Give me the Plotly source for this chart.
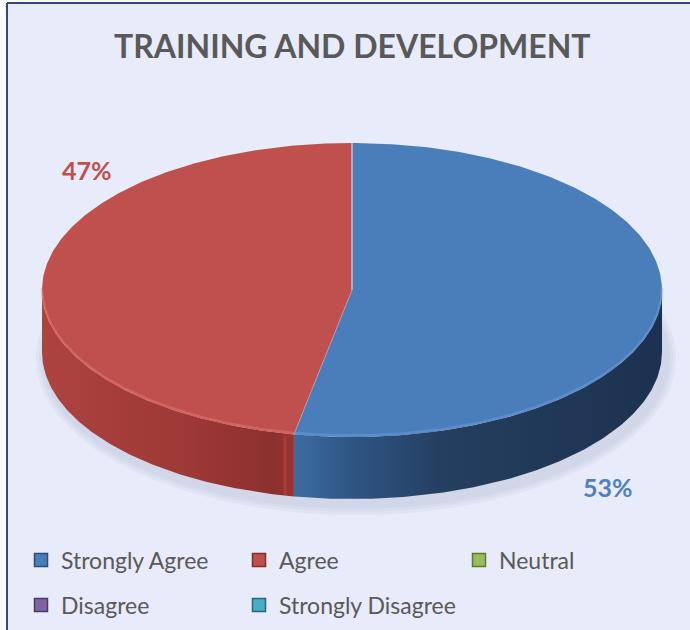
import numpy as np
import plotly.graph_objects as go

# ---- data ----
categories = ["Strongly Agree", "Agree", "Neutral", "Disagree", "Strongly Disagree"]
values = [53, 47, 0, 0, 0]
title_text = "TRAINING AND DEVELOPMENT"

# ---- styling ----
top_colors = ["#4a7ebb", "#c0504d", "#9bbb59", "#8064a2", "#4bacc6"]
side_scales = [
    [[0, "#3d6ca2"], [0.15, "#2f5685"], [0.4, "#253f60"], [1, "#1c3150"]],
    [[0, "#ad4340"], [0.6, "#9c3835"], [0.92, "#8b302e"], [1, "#983532"]],
    [[0, "#7f9a45"], [1, "#5f7533"]],
    [[0, "#65507f"], [1, "#4a3b5e"]],
    [[0, "#3a8aa0"], [1, "#2a6677"]],
]
legend_edge = ["#2c4d74", "#7e2f2d", "#5f7533", "#4a3b5e", "#2a6677"]
label_colors = ["#4f81bd", "#c0504d", "#9bbb59", "#8064a2", "#4bacc6"]
text_grey = "#595959"
W, H = 690, 630

# pie geometry in pixel units (y grows downwards)
cx, cy, rx, ry, depth = 352, 290, 310, 147, 62


def rim(t, dy=0.0):
    """Points on the ellipse rim; t is measured clockwise from 12 o'clock."""
    return cx + rx * np.sin(t), cy - ry * np.cos(t) + dy


fig = go.Figure()

# soft shadow under the disc
for k, a in enumerate([0.035, 0.035, 0.04]):
    t = np.linspace(0, 2 * np.pi, 200)
    grow = 10 - 3 * k
    sx = cx + 4 + (rx + grow) * np.sin(t)
    sy = cy + depth + 6 - (ry + grow) * np.cos(t)
    fig.add_trace(go.Scatter(x=sx, y=sy, fill="toself", mode="lines",
                             line=dict(width=0), fillcolor=f"rgba(40,50,90,{a})",
                             hoverinfo="skip", showlegend=False))

total = float(sum(values))
bounds = np.concatenate([[0], np.cumsum(values)]) / total * 2 * np.pi

# side walls (only the front half of the rim is visible)
for i, v in enumerate(values):
    if v <= 0:
        continue
    a0, a1 = max(bounds[i], np.pi / 2), min(bounds[i + 1], 3 * np.pi / 2)
    if a1 <= a0:
        continue
    t = np.linspace(a0, a1, 120)
    xt, yt = rim(t)
    xb, yb = rim(t[::-1], depth)
    xs = np.concatenate([xt, xb])
    ys = np.concatenate([yt, yb])
    fig.add_trace(go.Scatter(
        x=xs, y=ys, fill="toself", mode="lines", line=dict(width=0),
        fillgradient=dict(type="horizontal", colorscale=side_scales[i],
                          start=float(xs.min()), stop=float(xs.max())),
        hoverinfo="skip", showlegend=False))

# faint seam on the wall where the slices meet
for b in bounds[1:-1]:
    if np.pi / 2 < b < 3 * np.pi / 2:
        x0, y0 = rim(b)
        fig.add_trace(go.Scatter(x=[x0 - 9, x0 - 9], y=[y0 + 2, y0 + depth - 1], mode="lines",
                                 line=dict(color="rgba(190,70,66,0.45)", width=3),
                                 hoverinfo="skip", showlegend=False))

# top faces
for i, v in enumerate(values):
    if v <= 0:
        continue
    t = np.linspace(bounds[i], bounds[i + 1], 240)
    xt, yt = rim(t)
    xs = np.concatenate([[cx], xt, [cx]])
    ys = np.concatenate([[cy], yt, [cy]])
    fig.add_trace(go.Scatter(x=xs, y=ys, fill="toself", mode="lines",
                             line=dict(width=0), fillcolor=top_colors[i],
                             hoverinfo="skip", showlegend=False))
    # bevel highlight along the visible front edge
    a0, a1 = max(bounds[i], np.pi / 2), min(bounds[i + 1], 3 * np.pi / 2)
    if a1 > a0:
        tt = np.linspace(a0, a1, 120)
        hx, hy = rim(tt, -1.5)
        hl = "rgba(240,130,125,0.4)" if i == 1 else "rgba(110,160,220,0.45)"
        fig.add_trace(go.Scatter(x=hx, y=hy, mode="lines", line=dict(color=hl, width=2.5),
                                 hoverinfo="skip", showlegend=False))

# slice dividers on the top face
for b in bounds[:-1]:
    x1, y1 = rim(b)
    fig.add_trace(go.Scatter(x=[cx, x1], y=[cy, y1], mode="lines",
                             line=dict(color="rgba(235,240,255,0.3)", width=1),
                             hoverinfo="skip", showlegend=False))

# legend: one small legend box per category, laid out in two rows
legend_names = ["legend", "legend2", "legend3", "legend4", "legend5"]
legend_xy = [(21, 560), (239, 560), (459, 560), (21, 605), (239, 605)]
for i, c in enumerate(categories):
    fig.add_trace(go.Scatter(
        x=[None], y=[None], mode="markers", name=c,
        marker=dict(symbol="square", size=13, color=top_colors[i],
                    line=dict(color=legend_edge[i], width=1.5)),
        legend=legend_names[i]))

legend_common = dict(orientation="h", xanchor="left", yanchor="middle",
                     bgcolor="rgba(0,0,0,0)", itemclick=False, itemdoubleclick=False,
                     font=dict(family="Lato", size=23, color=text_grey))
legend_layout = {name: dict(x=lx / W, y=1 - ly / H, **legend_common)
                 for name, (lx, ly) in zip(legend_names, legend_xy)}

# percentage labels
label_pos = [(608, 487), (87, 170)]
annotations = []
for i, (lx, ly) in enumerate(label_pos):
    annotations.append(dict(x=lx, y=ly, xref="x", yref="y", text=f"{values[i]}%",
                            showarrow=False,
                            font=dict(family="Lato", size=25, color=label_colors[i], weight="bold")))
annotations.append(dict(x=352, y=45, xref="x", yref="y", text=title_text, showarrow=False,
                        font=dict(family="Lato", size=32, color=text_grey, weight="bold")))

shapes = [
    dict(type="rect", xref="x", yref="y", x0=8, y0=4, x1=W + 5, y1=H + 5,
         fillcolor="#e7ebfa", line=dict(width=0), layer="below"),
    dict(type="line", xref="x", yref="y", x0=7, y0=3, x1=W, y1=3,
         line=dict(color="#3a4a78", width=2)),
    dict(type="line", xref="x", yref="y", x0=7, y0=3, x1=7, y1=H,
         line=dict(color="#3a4a78", width=2)),
]

fig.update_layout(
    width=W, height=H, margin=dict(l=0, r=0, t=0, b=0),
    paper_bgcolor="white", plot_bgcolor="white",
    xaxis=dict(range=[0, W], visible=False, fixedrange=True),
    yaxis=dict(range=[H, 0], visible=False, fixedrange=True),
    shapes=shapes, annotations=annotations,
    **legend_layout,
)

fig.write_html("out.html")
